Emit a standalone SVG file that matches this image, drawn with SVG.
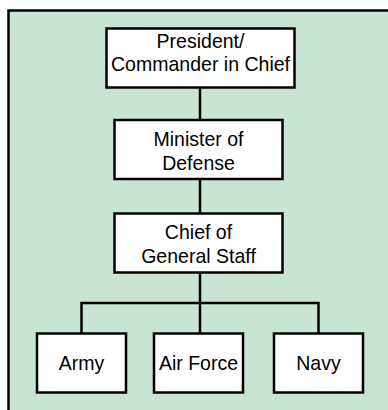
<svg xmlns="http://www.w3.org/2000/svg" width="388" height="410" viewBox="0 0 388 410">
<style>
.bg{fill:#c8e4d3;stroke:#000;stroke-width:2.5}
.box{fill:#fff;stroke:#000;stroke-width:2.5}
.ln{fill:none;stroke:#000;stroke-width:2.5}
text{font-family:"Liberation Sans",Arial,sans-serif;font-size:21px;text-anchor:middle;fill:#000}
</style>
<rect width="388" height="410" fill="#fff"/>
<rect class="bg" x="8.5" y="10.5" width="400" height="420"/>
<g id="connectors">
<line class="ln" x1="200" y1="88" x2="200" y2="120"/>
<line class="ln" x1="200" y1="179" x2="200" y2="213"/>
<line class="ln" x1="200" y1="273" x2="200" y2="333"/>
<polyline class="ln" points="81.5,333 81.5,303 318.5,303 318.5,333"/>
</g>
<g id="president">
<rect class="box" x="106.5" y="28.5" width="188" height="59"/>
<text transform="translate(200.5 0) scale(0.93 1)" y="48">President/</text>
<text transform="translate(200.5 0) scale(0.93 1)" y="71">Commander in Chief</text>
</g>
<g id="minister">
<rect class="box" x="114.5" y="120" width="168" height="59"/>
<text transform="translate(198.5 0) scale(0.93 1)" y="146">Minister of</text>
<text transform="translate(198.5 0) scale(0.93 1)" y="170">Defense</text>
</g>
<g id="chief">
<rect class="box" x="114.5" y="213.5" width="168" height="59"/>
<text transform="translate(198.5 0) scale(0.93 1)" y="239">Chief of</text>
<text transform="translate(198.5 0) scale(0.93 1)" y="263">General Staff</text>
</g>
<g id="army">
<rect class="box" x="37" y="333.5" width="89" height="59"/>
<text transform="translate(81.5 0) scale(0.93 1)" y="370">Army</text>
</g>
<g id="airforce">
<rect class="box" x="154" y="333.5" width="89" height="59"/>
<text transform="translate(198.5 0) scale(0.93 1)" y="370">Air Force</text>
</g>
<g id="navy">
<rect class="box" x="274" y="333.5" width="89" height="59"/>
<text transform="translate(318.5 0) scale(0.93 1)" y="370">Navy</text>
</g>
</svg>
